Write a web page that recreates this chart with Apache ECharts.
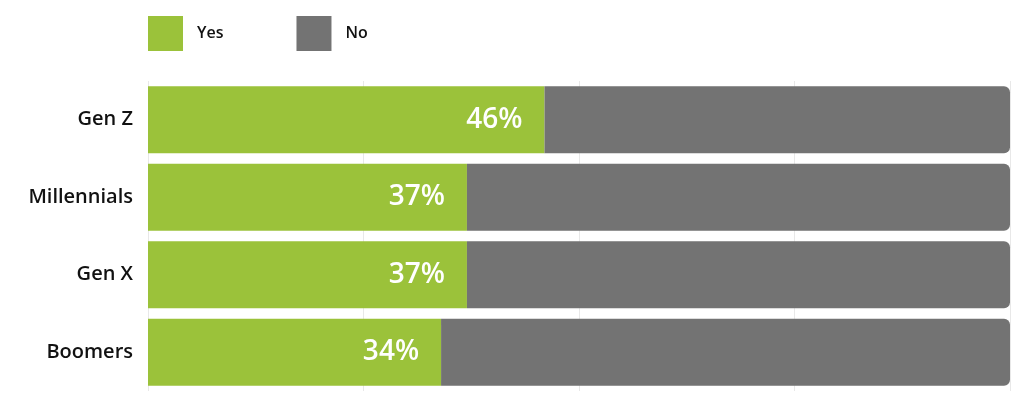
<!DOCTYPE html>
<html>
<head>
<meta charset="utf-8">
<script src="https://cdn.jsdelivr.net/npm/echarts@6/dist/echarts.min.js"></script>
<style>
  html, body { margin: 0; padding: 0; background: #fff; }
  #chart { width: 1024px; height: 398px; }
</style>
</head>
<body>
<div id="chart"></div>
<script>
const groups = ["Gen Z", "Millennials", "Gen X", "Boomers"];
const yesValues = [46, 37, 37, 34];
const noValues = [54, 63, 63, 66];
const tickValues = [0, 25, 50, 75, 100];

const chart = echarts.init(document.getElementById("chart"));

const options = {
  animation: false,
  textStyle: { fontFamily: "Open Sans" },
  legend: {
    left: 148,
    top: 16,
    padding: 0,
    itemWidth: 35,
    itemHeight: 35,
    itemGap: 73,
    icon: "rect",
    textStyle: { fontSize: 16, fontWeight: 600, color: "#111", padding: [2, 0, 0, 9] },
    data: ["Yes", "No"],
  },
  grid: {
    left: 148,
    right: 14,
    top: 81,
    bottom: 7,
  },
  xAxis: {
    type: "value",
    min: tickValues[0],
    max: tickValues[tickValues.length - 1],
    interval: 25,
    axisLabel: { show: false },
    axisLine: { show: false },
    axisTick: { show: false },
    splitLine: { lineStyle: { color: "#e8e8e8", width: 1 } },
  },
  yAxis: {
    type: "category",
    data: groups,
    inverse: true,
    axisLine: { show: false },
    axisTick: { show: false },
    axisLabel: {
      margin: 15,
      fontSize: 20,
      fontWeight: 600,
      color: "#111",
    },
  },
  series: [
    {
      name: "Yes",
      type: "bar",
      stack: "total",
      barWidth: 67,
      itemStyle: { color: "#9bc23a" },
      label: {
        show: true,
        position: "insideRight",
        distance: 22,
        formatter: "{c}%",
        color: "#fff",
        fontSize: 28,
        fontWeight: 600,
      },
      data: yesValues,
    },
    {
      name: "No",
      type: "bar",
      stack: "total",
      barWidth: 67,
      itemStyle: { color: "#737373", borderRadius: [0, 6, 6, 0] },
      data: noValues,
    },
  ],
};

chart.setOption(options);
</script>
</body>
</html>
